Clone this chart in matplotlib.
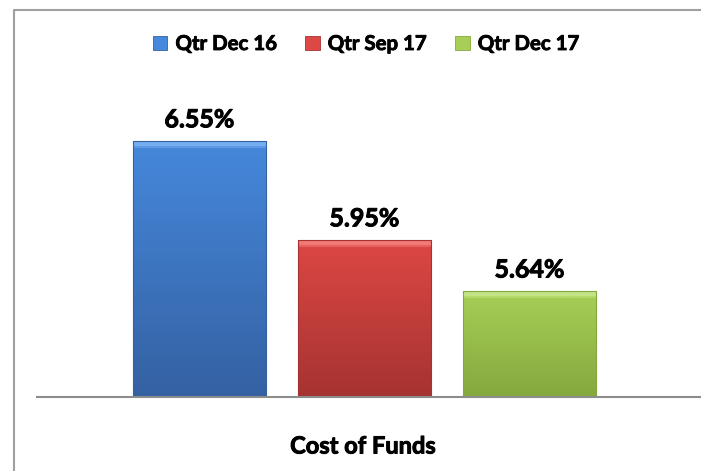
import numpy as np
import matplotlib
matplotlib.use("Agg")
import matplotlib.pyplot as plt
import matplotlib.patheffects as pe
from matplotlib.patches import Rectangle, Patch
from matplotlib.lines import Line2D
from matplotlib.colors import to_rgb

plt.rcParams['font.family'] = ['Lato', 'DejaVu Sans']

series = ["Qtr Dec 16", "Qtr Sep 17", "Qtr Dec 17"]
values = [6.55, 5.95, 5.64]
title = "Cost of Funds"

top_cols = ["#4688dc", "#dd4744", "#a7cf57"]
bot_cols = ["#3461a2", "#a53331", "#85a83d"]
bevel_cols = ["#74aef0", "#f27a76", "#c3e385"]

# slightly heavier strokes, Calibri bold look
heavy = [pe.withStroke(linewidth=0.7, foreground="black")]

W, H = 701, 471
fig = plt.figure(figsize=(W / 100, H / 100), dpi=100)
ax = fig.add_axes([37 / W, 1 - 397 / H, 1 - 37 / W, 297 / H])

x = np.arange(len(values))
bars = ax.bar(x, values, width=0.81, color=top_cols, edgecolor="none", zorder=2)
ax.set_xlim(-0.985, 3.039)
ax.set_ylim(5.0, 6.8)

# gradient fill on each bar, light bevel on top
y0 = 5.0
for b, tc, bc, vc in zip(bars, top_cols, bot_cols, bevel_cols):
    x0, w = b.get_x(), b.get_width()
    y1 = b.get_height()
    rows = max(int((y1 - y0) * 164.8), 10)
    t = np.linspace(0, 1, rows)[:, None]
    grad = (1 - t) * np.array(to_rgb(tc)) + t * np.array(to_rgb(bc))
    grad[:5] = np.array(to_rgb(vc))
    grad[5:7] = 0.5 * grad[5:7] + 0.5 * np.array(to_rgb(vc))
    grad = grad[:, None, :].repeat(2, axis=1)
    im = ax.imshow(grad, extent=[x0, x0 + w, y0, y1], aspect="auto",
                   origin="upper", zorder=3, interpolation="bilinear")
    im.set_clip_path(b)
    ax.add_patch(Rectangle((x0, y0), w, y1 - y0, fill=False,
                           edgecolor=bc, lw=0.8, zorder=4))

for xi, v in zip(x, values):
    ax.annotate(f"{v:.2f}%", (xi, v), xytext=(0, 10), textcoords="offset points",
                ha="center", va="baseline", fontsize=18, fontweight="bold",
                color="#000000", path_effects=heavy)

for s in ["top", "right", "left"]:
    ax.spines[s].set_visible(False)
ax.spines["bottom"].set_color("#8c8c8c")
ax.spines["bottom"].set_linewidth(1.5)
ax.spines["bottom"].set_zorder(5)
ax.set_xticks([])
ax.set_yticks([])
ax.patch.set_visible(False)

handles = [Patch(facecolor=c, edgecolor=bc, lw=0.6) for c, bc in zip(top_cols, bot_cols)]
leg = fig.legend(handles, series, loc="center", bbox_to_anchor=(366 / W, 1 - 44 / H),
                 ncol=3, frameon=False, handlelength=0.7, handleheight=0.7,
                 handletextpad=0.4, columnspacing=1.4,
                 prop={"size": 14.7, "weight": "bold"})
for txt in leg.get_texts():
    txt.set_path_effects([pe.withStroke(linewidth=0.6, foreground="black")])

fig.text(363 / W, 1 - 446 / H, title, ha="center", va="center",
         fontsize=17, fontweight="bold", color="#000000", path_effects=heavy)

# outer chart border: only left and top edges are visible
bx, by = 14 / W, 1 - 10 / H
fig.add_artist(Line2D([bx, bx, 1.0], [0.0, by, by], transform=fig.transFigure,
                      color="#a0a0a0", lw=1.5))

fig.savefig("out.png", dpi=100)
